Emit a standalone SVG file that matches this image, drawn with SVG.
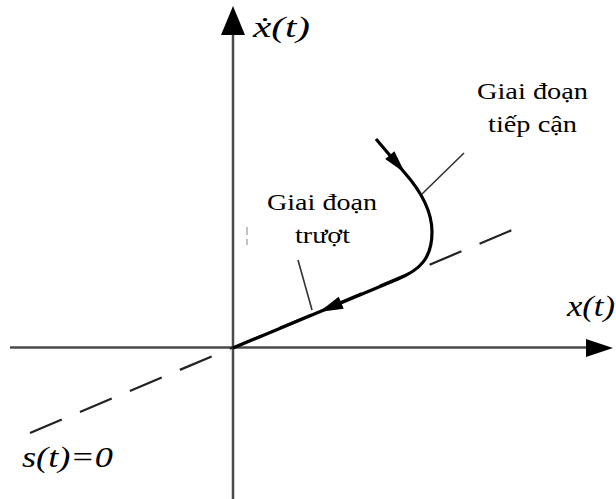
<svg xmlns="http://www.w3.org/2000/svg" width="616" height="499" viewBox="0 0 616 499">
<style>
.axis{stroke:#4a4a4a;stroke-width:2.5;fill:none}
.traj{stroke:#000;stroke-width:3.2;fill:none;stroke-linejoin:round}
.ptr{stroke:#333;stroke-width:1.6;fill:none}
.dash{stroke:#222;stroke-width:2.2;fill:none;stroke-dasharray:34.5 19.7}
.head{fill:#000}
.lbl{font-size:24px;fill:#000}
.math{font-style:italic;font-size:29px;fill:#000}
</style>
<rect width="616" height="499" fill="#fff"/>
<g id="axes">
<line class="axis" x1="10" y1="347.5" x2="590" y2="347.5"/>
<polygon class="head" points="613,348 586,339 586,357"/>
<line class="axis" x1="233" y1="499" x2="233" y2="30"/>
<polygon class="head" points="233,6 221,35 245,35"/>
</g>
<g id="surface">
<line class="dash" x1="30" y1="433" x2="512" y2="230"/>
<line x1="247" y1="227" x2="247" y2="245" stroke="#999" stroke-width="1.2" stroke-dasharray="8 4"/>
</g>
<g id="connectors">
<path class="traj" d="M376,139 L404,172 C420,190 432,210 432,232 C432,258 420,270 398,279 L233,348"/>
<polygon class="head" points="405,173 385.2,159.1 394.4,151.3"/>
<polygon class="head" points="319,312 343.7,308.7 338.7,296.7"/>
<line class="ptr" x1="464" y1="153" x2="422" y2="194"/>
<line class="ptr" x1="298" y1="260" x2="312" y2="310"/>
</g>
<g font-family="Liberation Serif, Times New Roman, serif">
<g id="label-approach">
<text class="lbl" x="477" y="99" textLength="111" lengthAdjust="spacingAndGlyphs">Giai đoạn</text>
<text class="lbl" x="488" y="132" textLength="89" lengthAdjust="spacingAndGlyphs">tiếp cận</text>
</g>
<g id="label-sliding">
<text class="lbl" x="267" y="210" textLength="110" lengthAdjust="spacingAndGlyphs">Giai đoạn</text>
<text class="lbl" x="295" y="243" textLength="55" lengthAdjust="spacingAndGlyphs">trượt</text>
</g>
<g id="axis-labels">
<text class="math" x="253" y="37" textLength="57" lengthAdjust="spacingAndGlyphs">ẋ(t)</text>
<text class="math" x="567" y="316" textLength="48" lengthAdjust="spacingAndGlyphs">x(t)</text>
<text class="math" x="22" y="467" textLength="91" lengthAdjust="spacingAndGlyphs">s(t)=0</text>
</g>
</g>
</svg>
